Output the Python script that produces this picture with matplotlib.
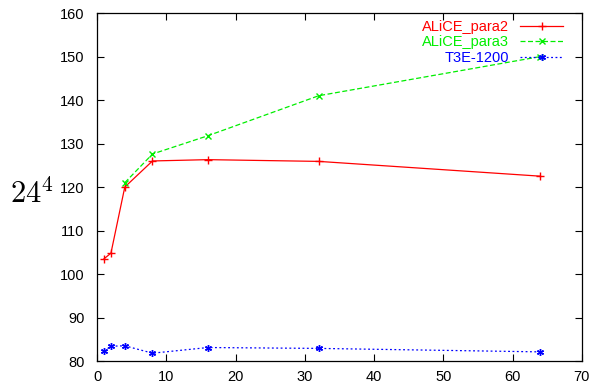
import matplotlib
matplotlib.use("Agg")
import matplotlib.pyplot as plt

procs = [1, 2, 4, 8, 16, 32, 64]
para2 = [103.5, 104.8, 120.0, 126.0, 126.3, 125.9, 122.5]
procs3 = [4, 8, 16, 32, 64]
para3 = [121.0, 127.6, 131.8, 141.0, 150.0]
t3e = [82.3, 83.4, 83.5, 81.8, 83.1, 82.9, 82.1]

xticks = [0, 10, 20, 30, 40, 50, 60, 70]
yticks = [80, 90, 100, 110, 120, 130, 140, 150, 160]

plt.rcParams['font.family'] = ['Liberation Sans', 'DejaVu Sans']
plt.rcParams['mathtext.fontset'] = 'cm'

fig = plt.figure(figsize=(5.92, 3.85), dpi=100)
ax = fig.add_axes([0.164, 0.0623, 0.819, 0.9037])

ax.plot(procs, para2, color='#ff0000', lw=0.9, ls='-', marker='+', ms=6, mew=1.0, label='ALiCE_para2')
ax.plot(procs3, para3, color='#00ee00', lw=0.9, ls=(0, (4, 2)), marker='x', ms=5, mew=1.0, label='ALiCE_para3')
ax.plot(procs, t3e, color='#0000ff', lw=0.9, ls=(0, (1.5, 2)), marker=(6, 2, 0), ms=5, mew=1.0, label='T3E-1200')

ax.set_xlim(0, 70)
ax.set_ylim(80, 160)
ax.set_xticks(xticks)
ax.set_yticks(yticks)
ax.tick_params(direction='in', top=True, right=True, labelsize=10.5, length=5, width=0.8)
ax.tick_params(axis='y', pad=9)
ax.tick_params(axis='x', pad=6.5)
for s in ax.spines.values():
    s.set_linewidth(0.9)

fig.text(10 / 592, 1 - 194 / 385, r'$24^4$', fontsize=22, ha='left', va='center')

leg = ax.legend(loc='upper right', frameon=False, markerfirst=False, fontsize=10.5,
                handlelength=2.95, handletextpad=0.75, labelspacing=0.1,
                borderpad=0, borderaxespad=0, bbox_to_anchor=(0.961, 0.981))
for txt, line in zip(leg.get_texts(), leg.get_lines()):
    txt.set_color(line.get_color())

fig.savefig('out.png', dpi=100)
